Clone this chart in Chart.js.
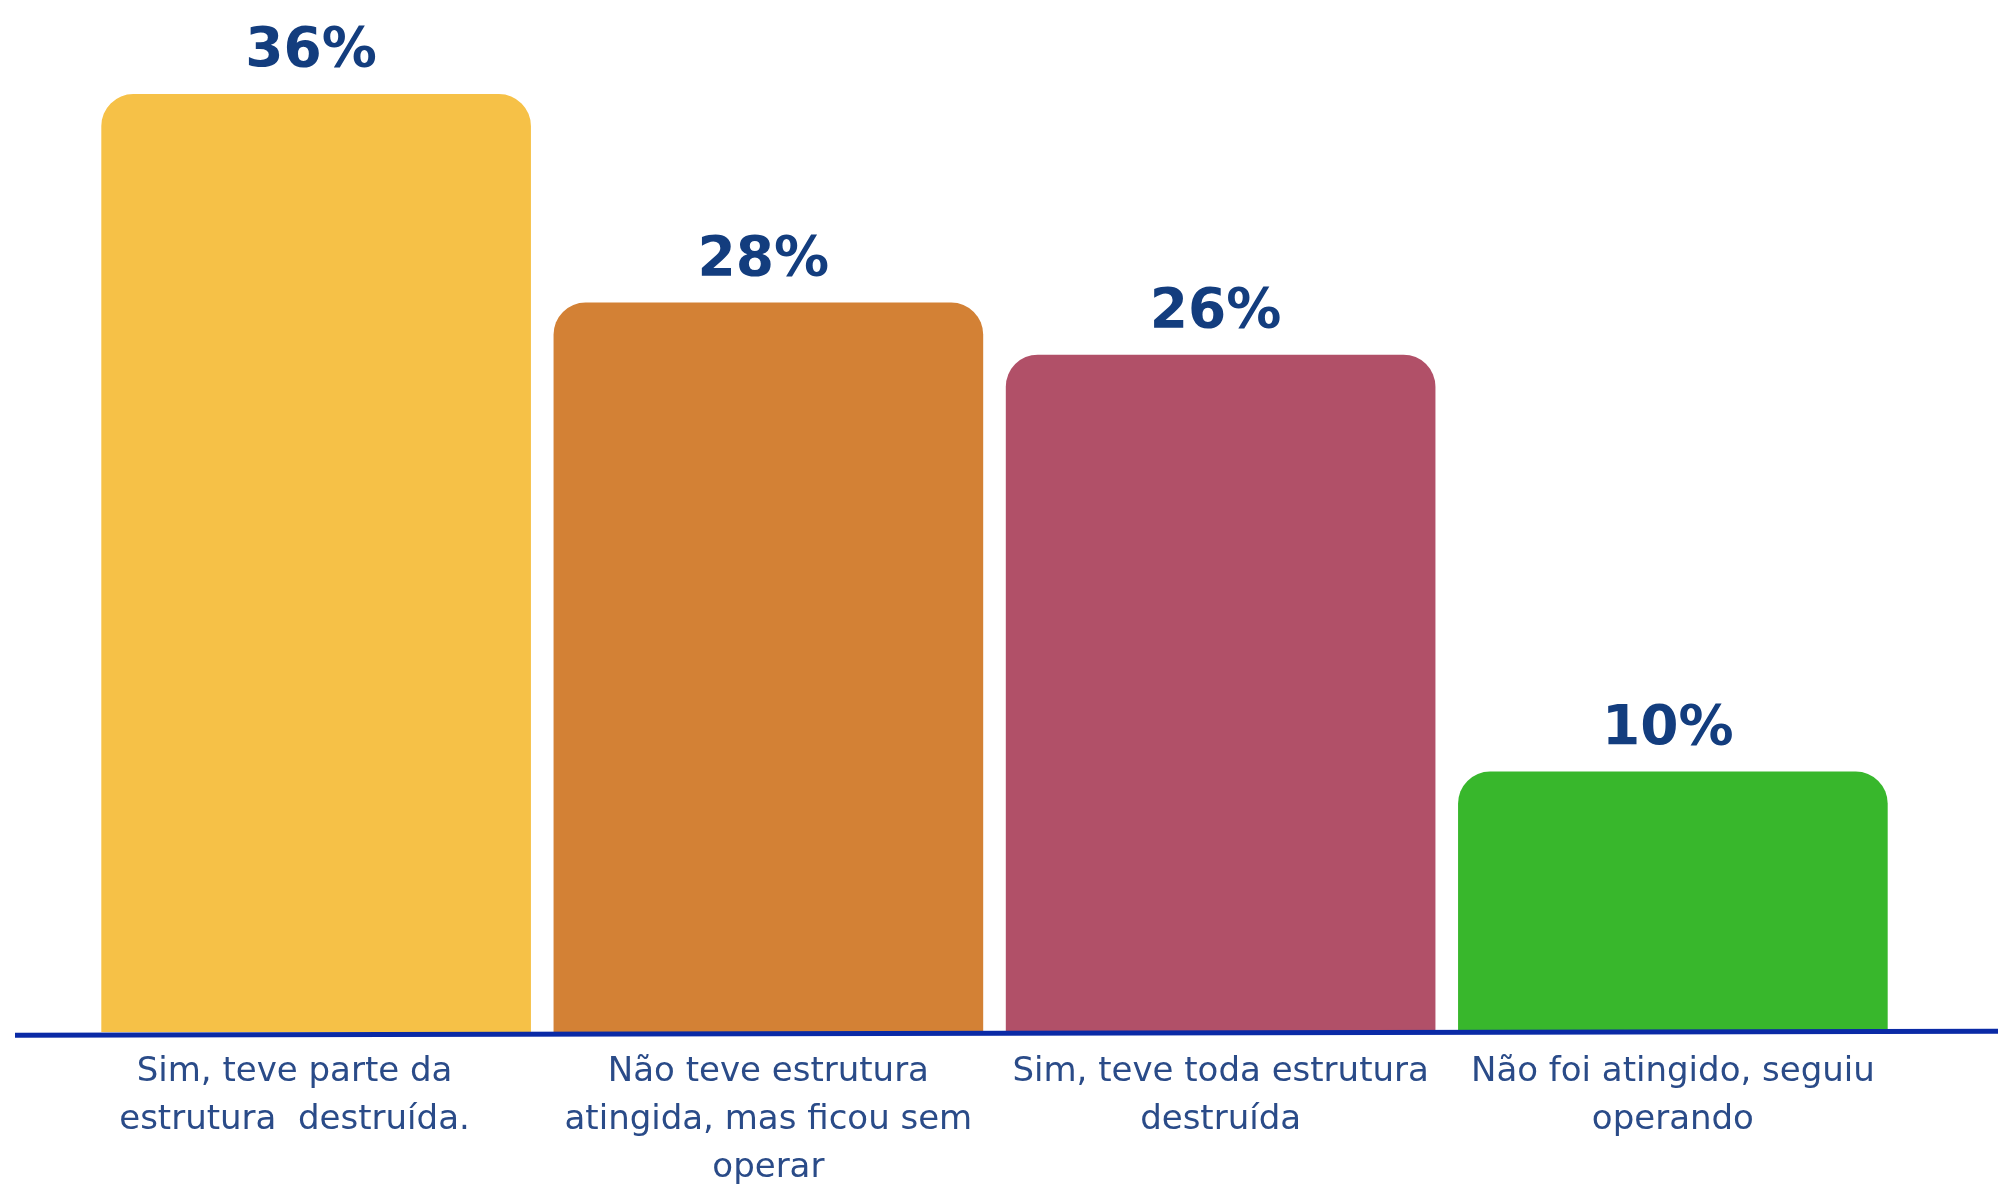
<!DOCTYPE html>
<html>
<head>
<meta charset="utf-8">
<script src="https://cdn.jsdelivr.net/npm/chart.js@4.4.1/dist/chart.umd.min.js"></script>
<style>
  html, body { margin: 0; padding: 0; background: #ffffff; }
  #wrap { width: 1998px; height: 1190px; position: relative; }
</style>
</head>
<body>
<div id="wrap"><canvas id="chart"></canvas></div>
<script>
// categorias e valores (% de respostas)
const categorias = [
    ["Sim, teve parte da    ", "estrutura  destruída.    "],
    ["Não teve estrutura", "atingida, mas ficou sem", "operar"],
    ["Sim, teve toda estrutura", "destruída"],
    ["Não foi atingido, seguiu", "operando"]
];
const valores = [36, 28, 26, 10];
const cores = ['#F6C147', '#D38135', '#B15068', '#38B72C'];

// rótulos de valor acima das barras
const rotulosPlugin = {
    id: 'rotulos',
    afterDatasetsDraw(chart) {
        const ctx = chart.ctx;
        const meta = chart.getDatasetMeta(0);
        ctx.save();
        ctx.fillStyle = '#133D7E';
        ctx.font = 'bold 55px "DejaVu Sans"';
        ctx.textAlign = 'center';
        ctx.textBaseline = 'alphabetic';
        meta.data.forEach((bar, i) => {
            ctx.fillText(valores[i] + '%', bar.x - 5, bar.y - 28);
        });
        ctx.restore();
    }
};

// linha do eixo (levemente inclinada como no original)
const eixoPlugin = {
    id: 'eixo',
    afterDatasetsDraw(chart) {
        const ctx = chart.ctx;
        const y0 = chart.scales.y.getPixelForValue(0);
        ctx.save();
        ctx.strokeStyle = '#0A2AA6';
        ctx.lineWidth = 5;
        ctx.beginPath();
        ctx.moveTo(15, y0 + 3);
        ctx.lineTo(1998, y0 - 1);
        ctx.stroke();
        ctx.restore();
    }
};

new Chart(document.getElementById('chart'), {
    type: 'bar',
    data: {
        labels: categorias,
        datasets: [{
            data: valores,
            backgroundColor: cores,
            borderRadius: 32,
            barPercentage: 0.95,
            categoryPercentage: 1.0
        }]
    },
    options: {
        responsive: true,
        maintainAspectRatio: false,
        animation: false,
        layout: { padding: { left: 90, right: 99, top: 42, bottom: -18 } },
        plugins: { legend: { display: false }, tooltip: { enabled: false } },
        scales: {
            x: {
                grid: { display: false, drawTicks: false },
                border: { display: false },
                ticks: {
                    color: '#2A4B88',
                    font: { family: '"DejaVu Sans"', size: 34, lineHeight: 1.41 },
                    padding: 16,
                    maxRotation: 0,
                    autoSkip: false
                }
            },
            y: {
                display: false,
                min: 0,
                max: 38
            }
        }
    },
    plugins: [rotulosPlugin, eixoPlugin]
});
</script>
</body>
</html>
